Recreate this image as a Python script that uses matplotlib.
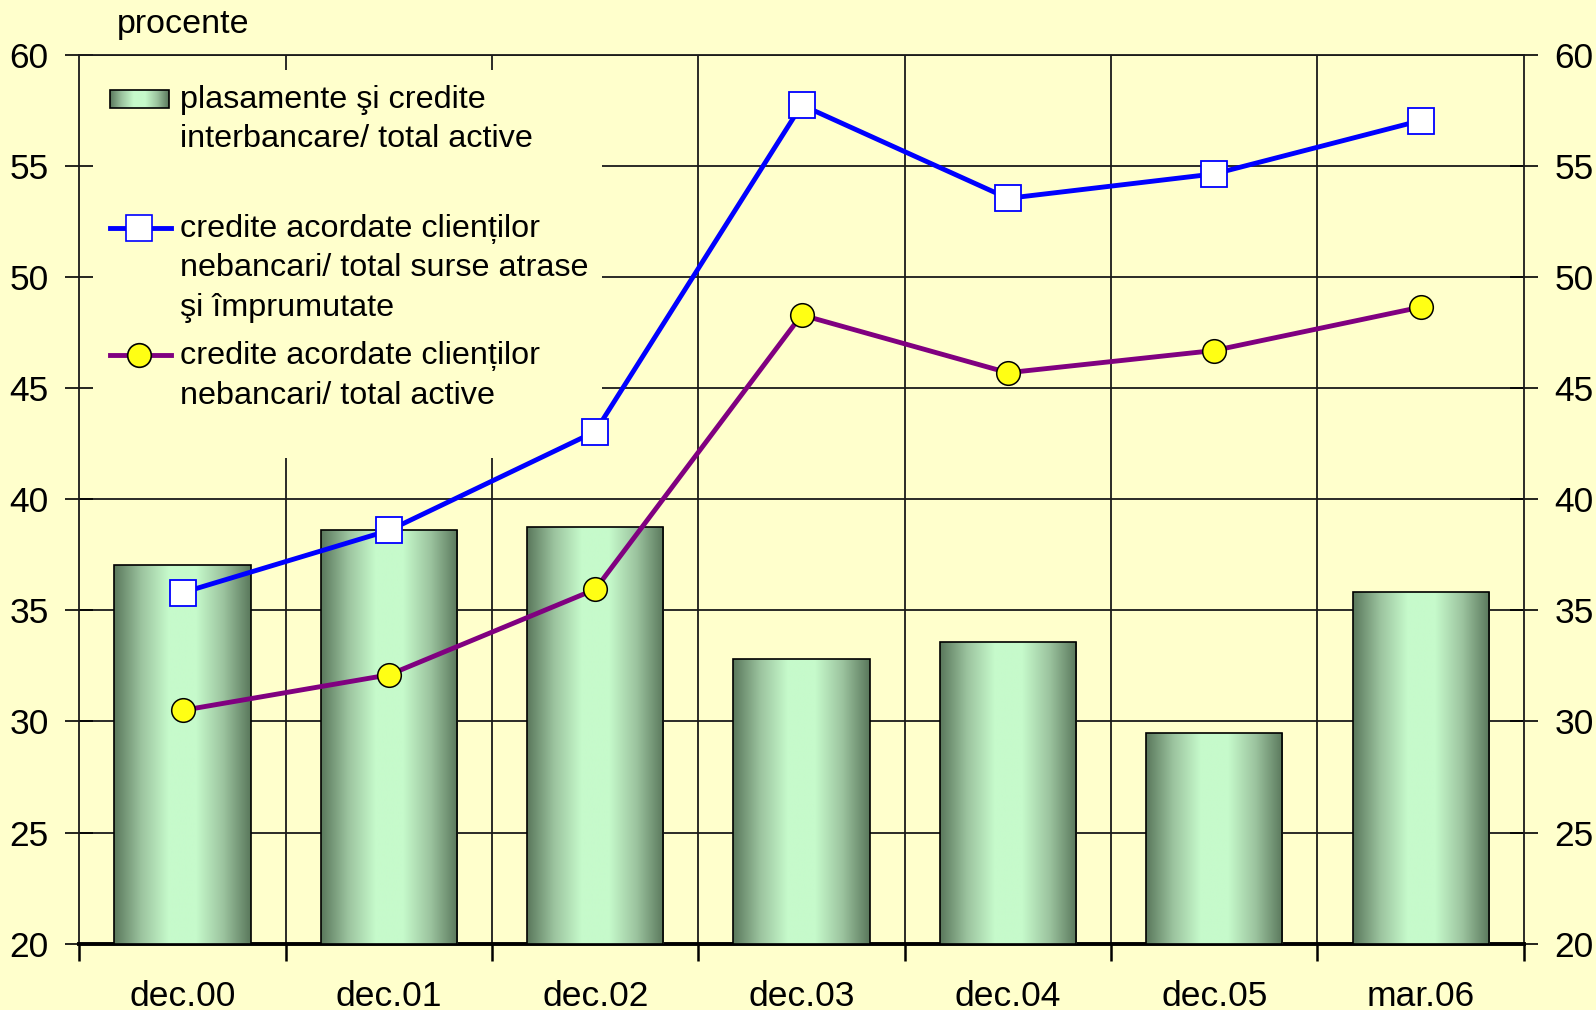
import matplotlib
matplotlib.use("Agg")
import matplotlib.pyplot as plt
import numpy as np
from matplotlib.patches import Rectangle
from matplotlib.lines import Line2D
from matplotlib.colors import LinearSegmentedColormap

plt.rcParams['font.family'] = ['Liberation Sans', 'DejaVu Sans']

categories = ['dec.00', 'dec.01', 'dec.02', 'dec.03', 'dec.04', 'dec.05', 'mar.06']
interbank = [37.05, 38.6, 38.75, 32.8, 33.6, 29.5, 35.85]
credit_sources = [35.8, 38.6, 43.05, 57.75, 53.55, 54.65, 57.05]
credit_assets = [30.5, 32.1, 35.95, 48.3, 45.7, 46.7, 48.65]

labels = [['plasamente şi credite', 'interbancare/ total active'],
          ['credite acordate clienților', 'nebancari/ total surse atrase', 'şi împrumutate'],
          ['credite acordate clienților', 'nebancari/ total active']]

bg = '#FFFFCC'
gcol = '#1a1a1a'
grad = LinearSegmentedColormap.from_list('g', ['#5A785C', '#9CC49F', '#C6FACB', '#C6FACB', '#9CC49F', '#5A785C'])
gimg = np.linspace(0, 1, 256).reshape(1, -1)

fig = plt.figure(figsize=(15.96, 10.10), dpi=100, facecolor=bg)
ax = fig.add_axes([0.04975, 0.0657, 0.9050, 0.8798])
ax.set_facecolor(bg)

x = np.arange(len(categories))

# grid drawn by hand so the legend box can cover it but not the ticks
for v in range(25, 61, 5):
    ax.axhline(v, color=gcol, lw=1.3, zorder=1)
for b in np.arange(0.5, len(categories) - 1, 1):
    ax.axvline(b, color=gcol, lw=1.3, zorder=1)

bars = ax.bar(x, np.array(interbank) - 20, bottom=20, width=0.66,
              facecolor='none', edgecolor='black', linewidth=1.2, zorder=3)
for bar in bars:
    x0, y0 = bar.get_x(), bar.get_y()
    im = ax.imshow(gimg, cmap=grad, aspect='auto', extent=[x0, x0 + bar.get_width(), y0, y0 + bar.get_height()],
                   zorder=2.9, interpolation='bilinear')
    im.set_clip_path(bar)

ax.plot(x, credit_sources, color='#0000FF', lw=3.5, marker='s', ms=19, mfc='white', mec='#0000FF', mew=1.3, zorder=4)
ax.plot(x, credit_assets, color='#800080', lw=3.5, marker='o', ms=17, mfc='#FFFF14', mec='black', mew=1.1, zorder=4)

ax.set_xlim(-0.5, len(categories) - 0.5)
ax.set_ylim(20, 60)

ax.set_yticks(range(20, 61, 5))
ax.tick_params(axis='y', which='major', direction='inout', length=20, width=1.2, labelsize=25.5,
               right=True, labelright=True, left=True, labelleft=True, pad=12)
ax.set_xticks(np.arange(-0.5, len(categories), 1))
ax.set_xticklabels([])
ax.tick_params(axis='x', which='major', direction='out', length=12, width=1.8)
ax.set_xticks(x, minor=True)
ax.set_xticklabels(categories, minor=True)
ax.tick_params(axis='x', which='minor', length=0, labelsize=25.5, pad=26)

for s in ['left', 'right', 'top']:
    ax.spines[s].set_linewidth(1.3)
    ax.spines[s].set_color(gcol)
ax.spines['bottom'].set_linewidth(2.8)


def axp(px, py):
    return ((px - 79.4) / 1444.4, (943.6 - py) / 888.6)


# legend box
lx0, ly0 = axp(80, 458)
lx1, ly1 = axp(602, 70)
ax.add_patch(Rectangle((lx0, ly0), lx1 - lx0, ly1 - ly0, transform=ax.transAxes,
                       facecolor=bg, edgecolor='none', zorder=1.5))

hx0, hy0 = axp(110, 108)
hx1, hy1 = axp(169, 89.6)
hb = Rectangle((hx0, hy0), hx1 - hx0, hy1 - hy0, transform=ax.transAxes, facecolor='none',
               edgecolor='black', lw=1.2, zorder=5)
ax.add_patch(hb)
him = ax.imshow(gimg, cmap=grad, aspect='auto', extent=[hx0, hx1, hy0, hy1], transform=ax.transAxes,
                zorder=4.9, interpolation='bilinear')
him.set_clip_path(hb)

for hy, col, mk, ms, mfc, mec in [(227.7, '#0000FF', 's', 19, 'white', '#0000FF'),
                                   (355, '#800080', 'o', 17, '#FFFF14', 'black')]:
    a0 = axp(110, hy)
    a1 = axp(171, hy)
    am = axp(139, hy)
    ax.add_line(Line2D([a0[0], a1[0]], [a0[1], a1[1]], transform=ax.transAxes, color=col, lw=3.5, zorder=5))
    ax.add_line(Line2D([am[0]], [am[1]], transform=ax.transAxes, marker=mk, ms=ms, mfc=mfc, mec=mec,
                       mew=1.2, zorder=5))

line_y = [[99.5, 138.5], [228.5, 268, 307.5], [356, 395.5]]
for lines, ys in zip(labels, line_y):
    for t, py in zip(lines, ys):
        tx, ty = axp(180, py)
        ax.text(tx, ty, t, transform=ax.transAxes, fontsize=23.3, va='center', ha='left', zorder=5)

ax.set_xlim(-0.5, len(categories) - 0.5)
ax.set_ylim(20, 60)

fig.text(117 / 1596, 1 - 24 / 1010, 'procente', fontsize=24.5, va='center', ha='left')

fig.savefig('out.png', dpi=100, facecolor=bg)
